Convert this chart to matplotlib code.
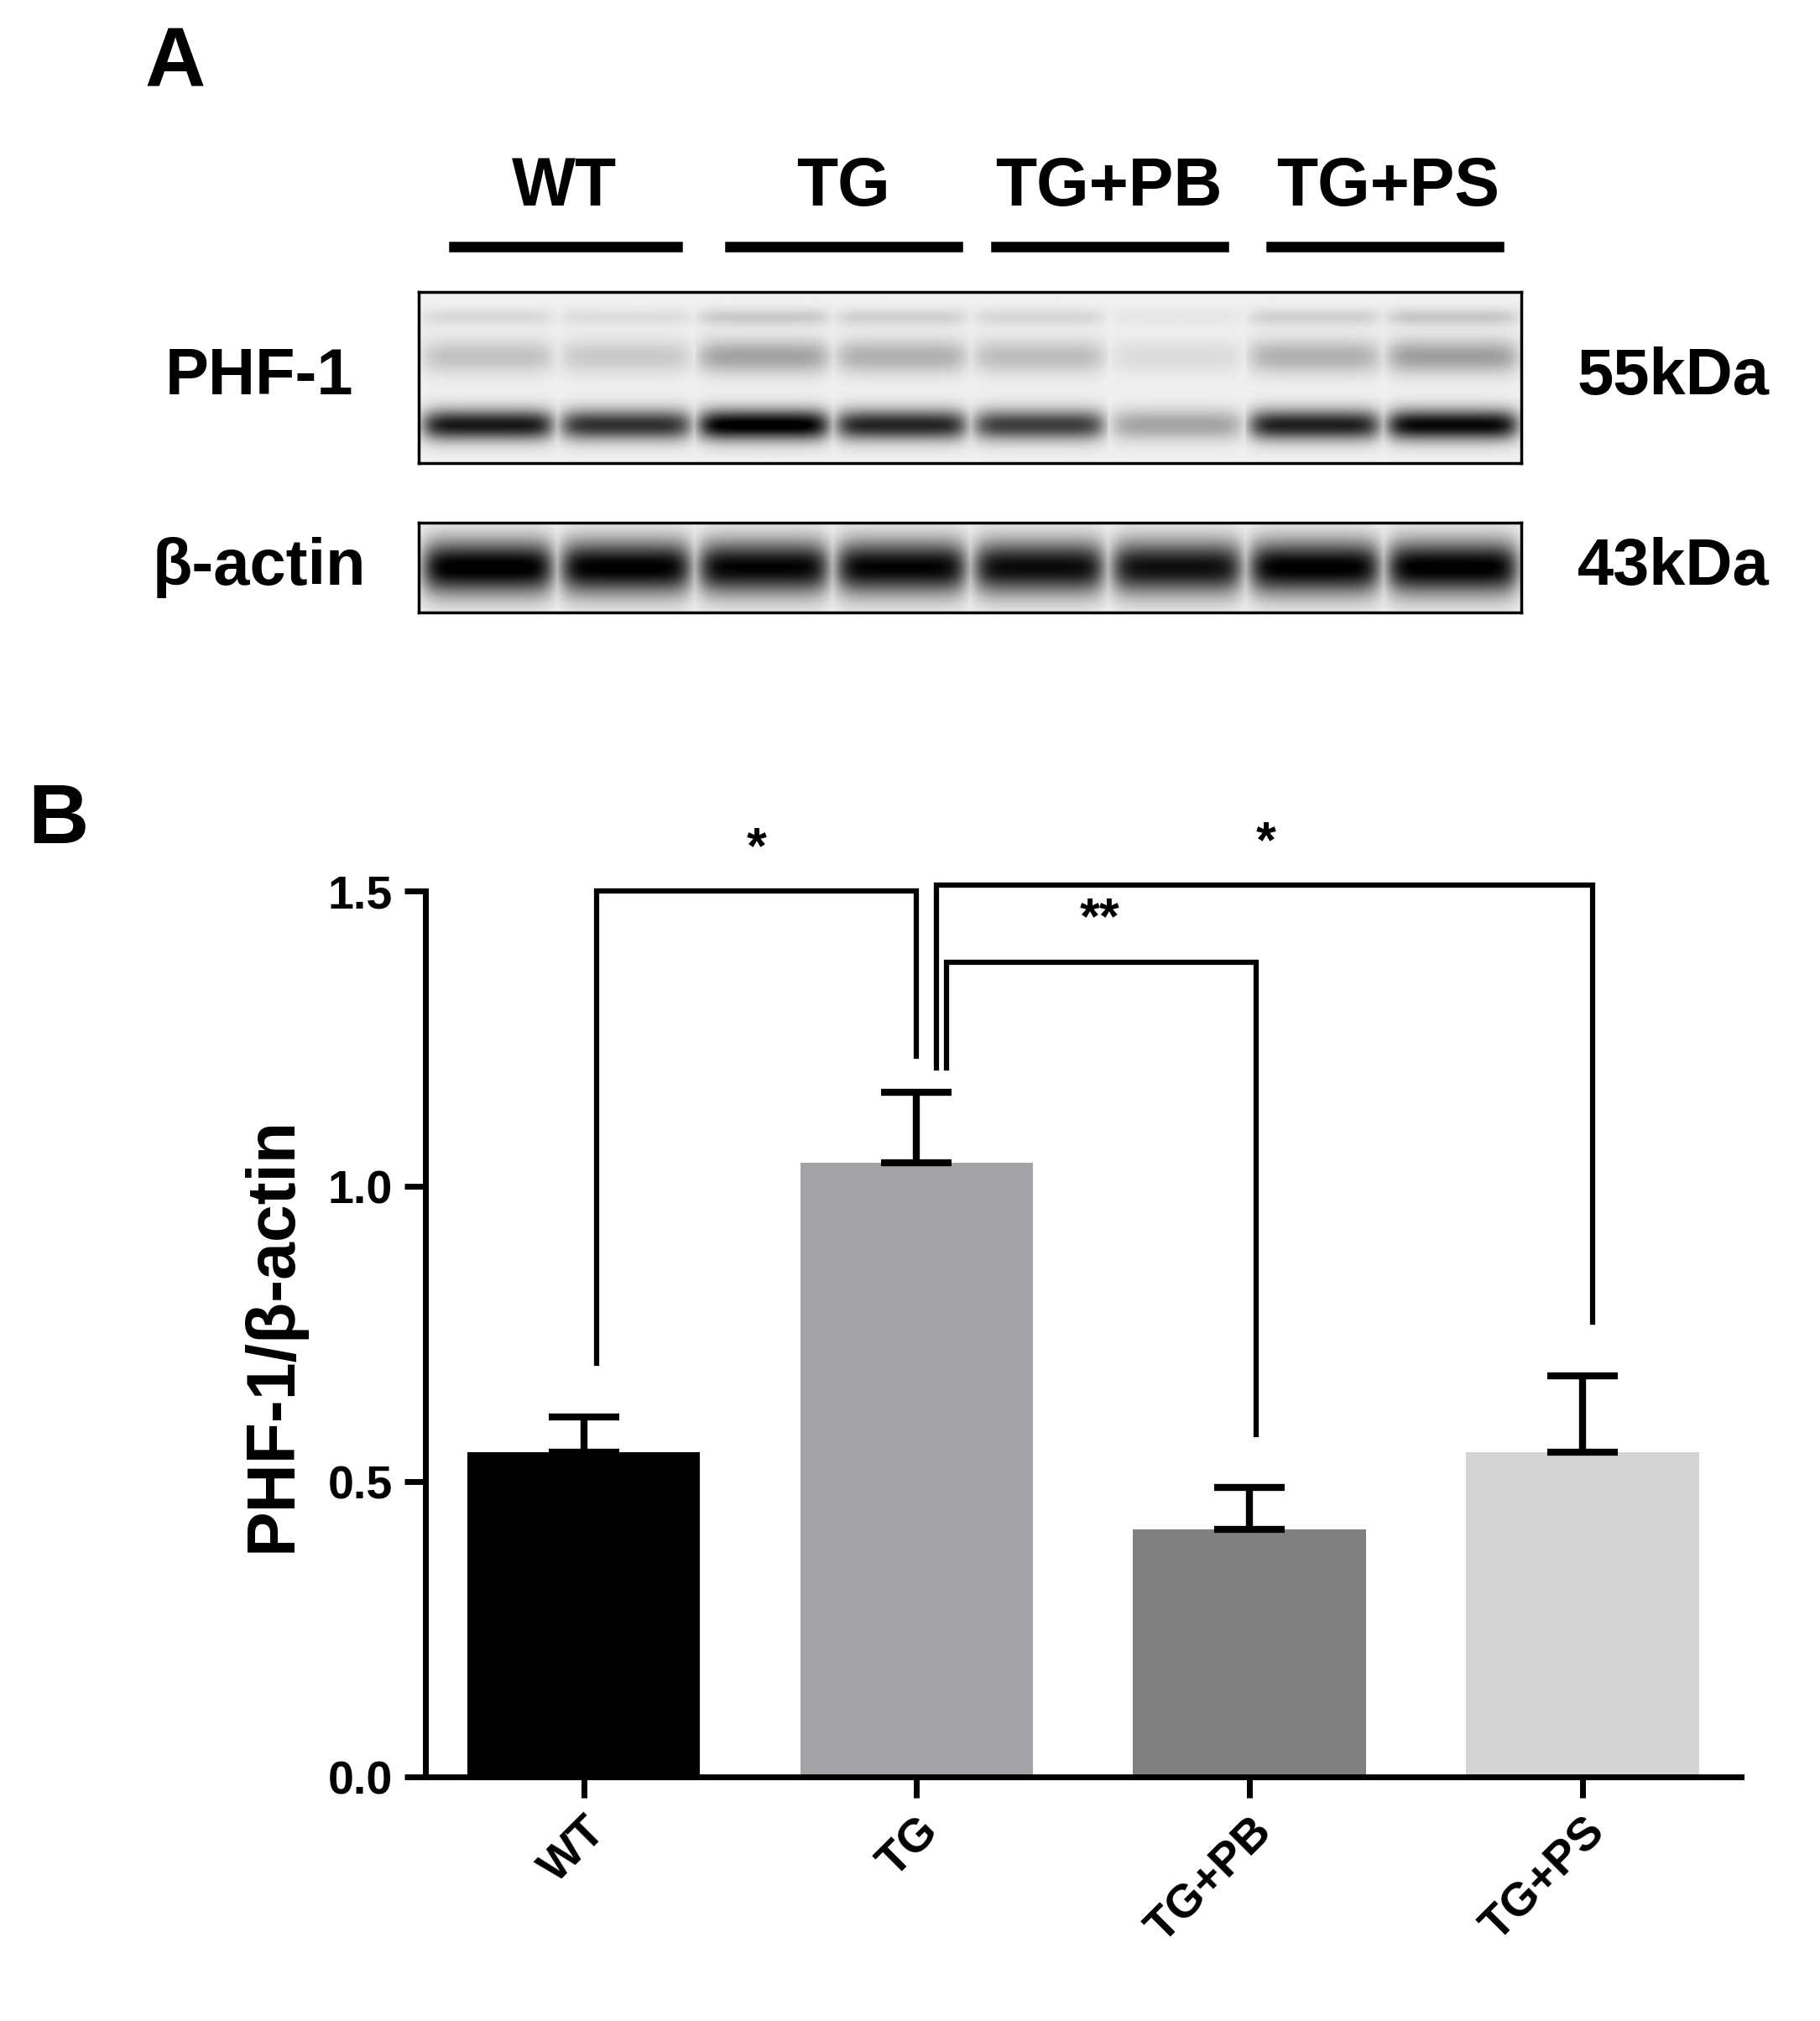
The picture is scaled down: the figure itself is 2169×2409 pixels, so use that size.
import numpy as np
import matplotlib
matplotlib.use("Agg")
import matplotlib.pyplot as plt

plt.rcParams["font.family"] = ["Liberation Sans", "DejaVu Sans"]
plt.rcParams["font.weight"] = "bold"

# ── Data ─────────────────────────────────────────────────────────────────────
groups = ["WT", "TG", "TG+PB", "TG+PS"]
means = [0.55, 1.04, 0.42, 0.55]
sems = [0.06, 0.12, 0.07, 0.13]
colors = ["#000000", "#a4a3a8", "#808080", "#d4d4d4"]

# blot band intensities per lane (8 lanes, 2 per group)
phf_low = [0.85, 0.75, 0.97, 0.80, 0.70, 0.30, 0.82, 0.92]
phf_high = [0.18, 0.15, 0.30, 0.25, 0.20, 0.08, 0.25, 0.32]
actin = [0.97, 0.95, 0.93, 0.93, 0.90, 0.88, 0.95, 0.96]

# brackets: (x1, x2, y, drop1, drop2, text, text_x)
brackets = [(0.04, 1.0, 1.50, 0.70, 1.22, "*", 0.52),
            (1.06, 3.03, 1.51, 1.20, 0.77, "*", 2.05),
            (1.09, 2.02, 1.38, 1.20, 0.58, "**", 1.55)]

W, H = 1403.0, 1558.0
fig = plt.figure(figsize=(21.69, 24.09), dpi=100)


def fx(x):
    return x / W


def fy(y):
    return 1 - y / H


# ── Panel A ─────────────────────────────────────────────────────────────────
fig.text(fx(135), fy(50), "A", fontsize=72, ha="center", va="center", weight="bold")
for name, xc, (x0, x1) in zip(groups, [435, 650, 855, 1070],
                              [(350, 522), (563, 738), (768, 943), (980, 1155)]):
    fig.text(fx(xc), fy(145), name, fontsize=58, ha="center", va="center", weight="bold")
    fig.add_artist(plt.Line2D([fx(x0), fx(x1)], [fy(190), fy(190)], color="black", lw=9))


def blot(y0, y1, bands, label, kda):
    ax = fig.add_axes([fx(323), fy(y1), fx(1173) - fx(323), (y1 - y0) / H])
    nx, ny = 850, 200
    xs = np.linspace(0, 8, nx)
    ys = np.linspace(0, 1, ny)[:, None]
    img = np.zeros((ny, nx))
    for yc, sy, vals in bands:
        lane = np.clip(xs.astype(int), 0, 7)
        inten = np.array(vals)[lane]
        frac = xs - lane - 0.5
        shape = np.exp(-(frac / 0.48) ** 8)
        img += inten * shape * np.exp(-((ys - yc) / sy) ** 2)
    img = np.clip(img + 0.06, 0, 1)
    ax.imshow(1 - img, cmap="gray", vmin=0, vmax=1, aspect="auto",
              extent=[0, 8, 0, 1], origin="lower")
    ax.set_xticks([])
    ax.set_yticks([])
    for s in ax.spines.values():
        s.set_linewidth(2.5)
    fig.text(fx(200), fy((y0 + y1) / 2), label, fontsize=56, ha="center", va="center", weight="bold")
    fig.text(fx(1290), fy((y0 + y1) / 2), kda, fontsize=56, ha="center", va="center", weight="bold")


blot(225, 357, [(0.22, 0.09, phf_low), (0.62, 0.1, phf_high), (0.85, 0.05, [v * 0.5 for v in phf_high])],
     "PHF-1", "55kDa")
blot(403, 472, [(0.5, 0.3, actin)], "β-actin", "43kDa")

# ── Panel B ─────────────────────────────────────────────────────────────────
fig.text(fx(45), fy(633), "B", fontsize=72, ha="center", va="center", weight="bold")
ax = fig.add_axes([fx(328), fy(1370), fx(1342) - fx(328), (1370 - 687) / H])
x = np.arange(len(groups))
ax.bar(x, means, width=0.7, color=colors, zorder=2)
ax.errorbar(x, means, yerr=[np.zeros(4), sems], fmt="none", ecolor="black",
            elinewidth=6, capsize=30, capthick=6, zorder=3)
ax.set_xlim(-0.475, 3.475)
ax.set_ylim(0, 1.5)
ax.set_yticks([0, 0.5, 1.0, 1.5])
ax.set_yticklabels(["0.0", "0.5", "1.0", "1.5"])
ax.set_xticks(x)
ax.set_xticklabels(groups, rotation=45, ha="right", rotation_mode="anchor")
ax.tick_params(width=5, length=18, labelsize=40, pad=10)
for lab in ax.get_xticklabels() + ax.get_yticklabels():
    lab.set_fontweight("bold")
for side in ["top", "right"]:
    ax.spines[side].set_visible(False)
for side in ["left", "bottom"]:
    ax.spines[side].set_linewidth(5)
ax.set_ylabel("PHF-1/β-actin", fontsize=58, weight="bold", labelpad=20)

for x1, x2, y, d1, d2, txt, tx in brackets:
    ax.plot([x1, x1, x2, x2], [d1, y, y, d2], color="black", lw=4.5,
            clip_on=False, solid_joinstyle="miter")
    ax.text(tx, y + 0.03, txt, fontsize=44, ha="center", va="bottom", weight="bold")

plt.savefig("out.png", dpi=100)
